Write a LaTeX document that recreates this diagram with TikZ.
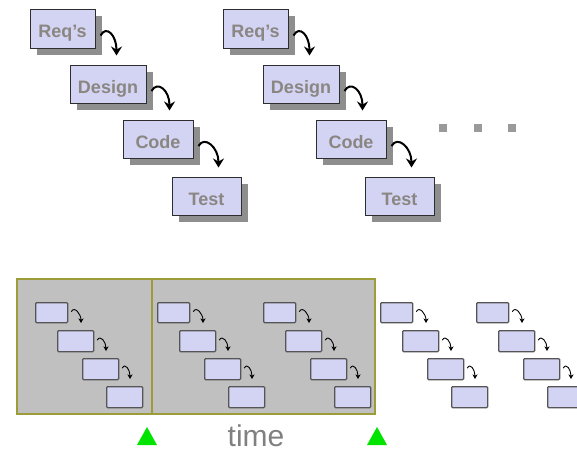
\documentclass[tikz,border=0pt]{standalone}
\usepackage{fontspec}
\setmainfont{Liberation Sans}
\usetikzlibrary{shadows,arrows.meta,calc}
\definecolor{boxfill}{HTML}{D3D3F3}
\definecolor{boxline}{HTML}{2E2E2E}
\definecolor{smallline}{HTML}{555555}
\definecolor{shade}{HTML}{8E8E8E}
\definecolor{labeltext}{HTML}{8A8682}
\definecolor{panel}{HTML}{C0C0C0}
\definecolor{panelline}{HTML}{9C9C38}
\definecolor{marker}{HTML}{00E400}
\definecolor{dotgray}{HTML}{9A9A9A}
\tikzset{
  phase/.style={draw=boxline, line width=1pt, fill=boxfill, inner sep=0pt,
    text=labeltext, font=\bfseries\fontsize{18}{20}\selectfont,
    text height=18pt, text depth=0pt,
    drop shadow={shadow xshift=7pt, shadow yshift=-7pt, opacity=1, fill=shade}},
  miniphase/.style={draw=smallline, line width=1.3pt, fill=boxfill,
    rounded corners=1pt, inner sep=0pt, minimum height=20pt},
  bigarrow/.style={line width=2pt, -{Stealth[length=9pt,width=11pt,inset=3pt]}},
  smallarrow/.style={line width=0.9pt, -{Stealth[length=4.5pt,width=5pt,inset=1.2pt]}},
}
\begin{document}
\begin{tikzpicture}[x=1pt,y=-1pt]
\useasboundingbox (0,0) rectangle (577,451);
\clip (0,0) rectangle (577,451);

% two full waterfall cycles
\foreach \g/\ox in {a/0,b/193}{
  \begin{scope}[xshift=\ox pt]
    \node[phase, minimum width=65pt, minimum height=39pt] (req\g) at (62.5,28.5) {Req’s};
    \node[phase, minimum width=76pt, minimum height=38pt] (des\g) at (108,84) {Design};
    \node[phase, minimum width=70pt, minimum height=38pt] (cod\g) at (158,139) {Code};
    \node[phase, minimum width=69pt, minimum height=38pt] (tst\g) at (206.5,196) {Test};
    \draw[bigarrow] ($(req\g.east)+(5,7)$) .. controls +(6,-11) and +(0,-20) .. ($(des\g.north west)+(47,-9)$);
    \draw[bigarrow] ($(des\g.east)+(5,7)$) .. controls +(6,-11) and +(0,-20) .. ($(cod\g.north west)+(47,-9)$);
    \draw[bigarrow] ($(cod\g.east)+(5,7)$) .. controls +(6,-11) and +(0,-20) .. ($(tst\g.north west)+(47,-9)$);
  \end{scope}
}

% continuation dots
\foreach \dx in {443,478,512}
  \fill[dotgray] (\dx-4,124) rectangle (\dx+4,131.5);

% timeline panel
\draw[panelline, line width=1.2pt, fill=panel] (17,279) rectangle (375,414);
\draw[panelline, line width=1.2pt] (152,279) -- (152,414);

% repeated short cycles
\foreach \n/\gx in {1/35,2/157,3/263,4/380,5/476}{
  \node[miniphase, minimum width=32pt, anchor=north west] (m\n a) at (\gx,302) {};
  \node[miniphase, minimum width=36pt, minimum height=21pt, anchor=north west] (m\n b) at (\gx+22,330) {};
  \node[miniphase, minimum width=36pt, minimum height=21pt, anchor=north west] (m\n c) at (\gx+47,358) {};
  \node[miniphase, minimum width=36pt, minimum height=21pt, anchor=north west] (m\n d) at (\gx+71,386) {};
  \draw[smallarrow] ($(m\n a.east)+(3,-1)$) .. controls +(3,-6) and +(0,-9) .. ($(m\n b.north west)+(24,-7)$);
  \draw[smallarrow] ($(m\n b.east)+(3,-1)$) .. controls +(3,-6) and +(0,-9) .. ($(m\n c.north west)+(24,-7)$);
  \draw[smallarrow] ($(m\n c.east)+(3,-1)$) .. controls +(3,-6) and +(0,-9) .. ($(m\n d.north west)+(24,-7)$);
}

% release markers and axis label
\fill[marker] (137,445) -- (157,445) -- (147,427) -- cycle;
\fill[marker] (367,445) -- (387,445) -- (377,427) -- cycle;
\node[anchor=base, text=gray, font=\fontsize{30}{32}\selectfont, inner sep=0pt] (time) at (256,446) {time};
\end{tikzpicture}
\end{document}
